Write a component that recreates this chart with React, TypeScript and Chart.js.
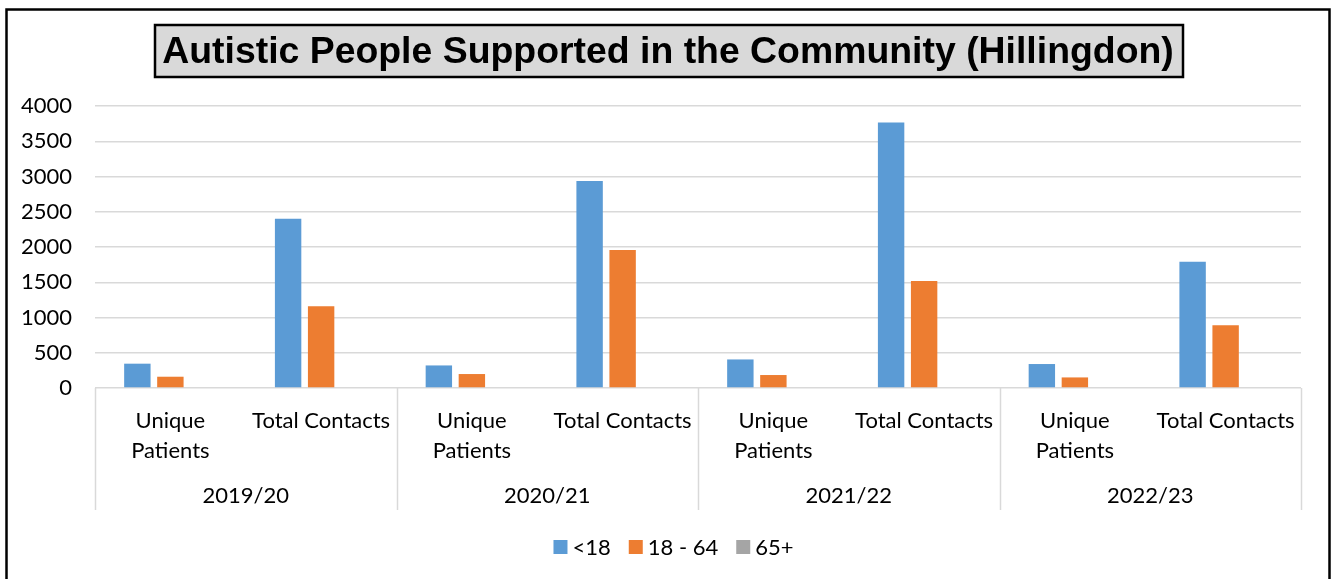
import React, { useEffect, useRef } from 'react';
import { Chart, registerables } from 'chart.js';

Chart.register(...registerables);

const title = 'Autistic People Supported in the Community (Hillingdon)';
const years = ['2019/20', '2020/21', '2021/22', '2022/23'];
const measures = [['Unique', 'Patients'], ['Total Contacts']];
const seriesNames = ['<18', '18 - 64', '65+'];
const under18 = [345, 2400, 320, 2935, 405, 3765, 340, 1790];
const age18to64 = [160, 1160, 198, 1957, 184, 1518, 150, 891];
const age65plus = [0, 0, 0, 0, 0, 0, 0, 0];
const yMax = 4000;
const yStep = 500;
const seriesColors = ['#5B9BD5', '#ED7D31', '#A5A5A5'];

const FONT = 'Lato';
const FONT_SIZE = 22;

const categories = years.flatMap((y) => measures.map((m) => `${y} ${m.join(' ')}`));

const decorPlugin = {
  id: 'decor',
  beforeDraw(chart: any) {
    const ctx = chart.ctx;
    ctx.save();
    ctx.fillStyle = '#ffffff';
    ctx.fillRect(0, 0, chart.width, chart.height);
    ctx.restore();
  },
  afterDraw(chart: any) {
    const ctx = chart.ctx;
    const xs = chart.scales.x;
    const area = chart.chartArea;
    ctx.save();
    // outer frame
    ctx.strokeStyle = '#000';
    ctx.lineWidth = 2.5;
    ctx.strokeRect(6.5, 9.5, 1323, 700);

    // title box
    ctx.fillStyle = '#D9D9D9';
    ctx.fillRect(155, 25, 1028, 52);
    ctx.strokeStyle = '#000';
    ctx.lineWidth = 2.5;
    ctx.strokeRect(155, 25, 1028, 52);
    ctx.fillStyle = '#000';
    ctx.font = `bold 37.4px "Liberation Sans", Arial, sans-serif`;
    ctx.textAlign = 'center';
    ctx.textBaseline = 'middle';
    ctx.fillText(title, 668, 53);

    // category axis (two levels)
    ctx.font = `${FONT_SIZE}px ${FONT}`;
    ctx.fillStyle = '#000';
    const n = categories.length;
    for (let i = 0; i < n; i++) {
      const cx = xs.getPixelForValue(i);
      const lines = measures[i % measures.length];
      lines.forEach((l, k) => ctx.fillText(l, cx, 421 + k * 30));
    }
    const per = measures.length;
    ctx.strokeStyle = '#D9D9D9';
    ctx.lineWidth = 1.5;
    for (let g = 0; g <= years.length; g++) {
      let bx: number;
      if (g === 0) bx = area.left;
      else if (g === years.length) bx = area.right;
      else bx = (xs.getPixelForValue(g * per - 1) + xs.getPixelForValue(g * per)) / 2;
      ctx.beginPath();
      ctx.moveTo(Math.round(bx) + 0.5, area.bottom);
      ctx.lineTo(Math.round(bx) + 0.5, area.bottom + 122);
      ctx.stroke();
    }
    years.forEach((y, g) => {
      const a = xs.getPixelForValue(g * per);
      const b = xs.getPixelForValue(g * per + per - 1);
      ctx.fillText(y, (a + b) / 2, 496);
    });

    // legend
    const box = 14;
    const gapBoxText = 5;
    const gapItems = 18;
    ctx.textAlign = 'left';
    const widths = chart.data.datasets.map((d: any) => ctx.measureText(d.label).width);
    const total = widths.reduce((s: number, w: number) => s + box + gapBoxText + w, 0) + gapItems * (widths.length - 1);
    let x = 673.5 - total / 2;
    const ly = 547;
    chart.data.datasets.forEach((d: any, i: number) => {
      ctx.fillStyle = d.backgroundColor;
      ctx.fillRect(x, ly - box / 2, box, box);
      ctx.fillStyle = '#000';
      ctx.fillText(d.label, x + box + gapBoxText, ly + 1);
      x += box + gapBoxText + widths[i] + gapItems;
    });
    ctx.restore();
  },
};

export default function App() {
  const ref = useRef<HTMLCanvasElement | null>(null);
  useEffect(() => {
    document.body.style.margin = '0';
    if (!ref.current) return;
    const chart = new Chart(ref.current, {
      type: 'bar',
      data: {
        labels: categories,
        datasets: [under18, age18to64, age65plus].map((vals, i) => ({
          label: seriesNames[i],
          data: vals,
          backgroundColor: seriesColors[i],
          borderWidth: 0,
          categoryPercentage: 0.657,
          barPercentage: 0.8,
        })),
      },
      options: {
        responsive: false,
        animation: false,
        devicePixelRatio: 1,
        layout: { padding: { left: 0, top: 106, right: 31, bottom: 191 } },
        plugins: { legend: { display: false }, title: { display: false }, tooltip: { enabled: false } },
        scales: {
          x: { display: false },
          y: {
            min: 0,
            max: yMax,
            ticks: {
              stepSize: yStep,
              color: '#000',
              padding: 23,
              font: { family: FONT, size: FONT_SIZE },
              callback: (v: any) => String(v),
            },
            grid: { color: '#D9D9D9', lineWidth: 1.5, drawTicks: false },
            border: { display: false },
            afterFit: (s: any) => {
              s.width = 95;
            },
          },
        },
      },
      plugins: [decorPlugin],
    });
    return () => chart.destroy();
  }, []);
  return (
    <div style={{ position: 'absolute', left: 0, top: 0, width: 1332, height: 579 }}>
      <canvas ref={ref} width={1332} height={579} />
    </div>
  );
}
